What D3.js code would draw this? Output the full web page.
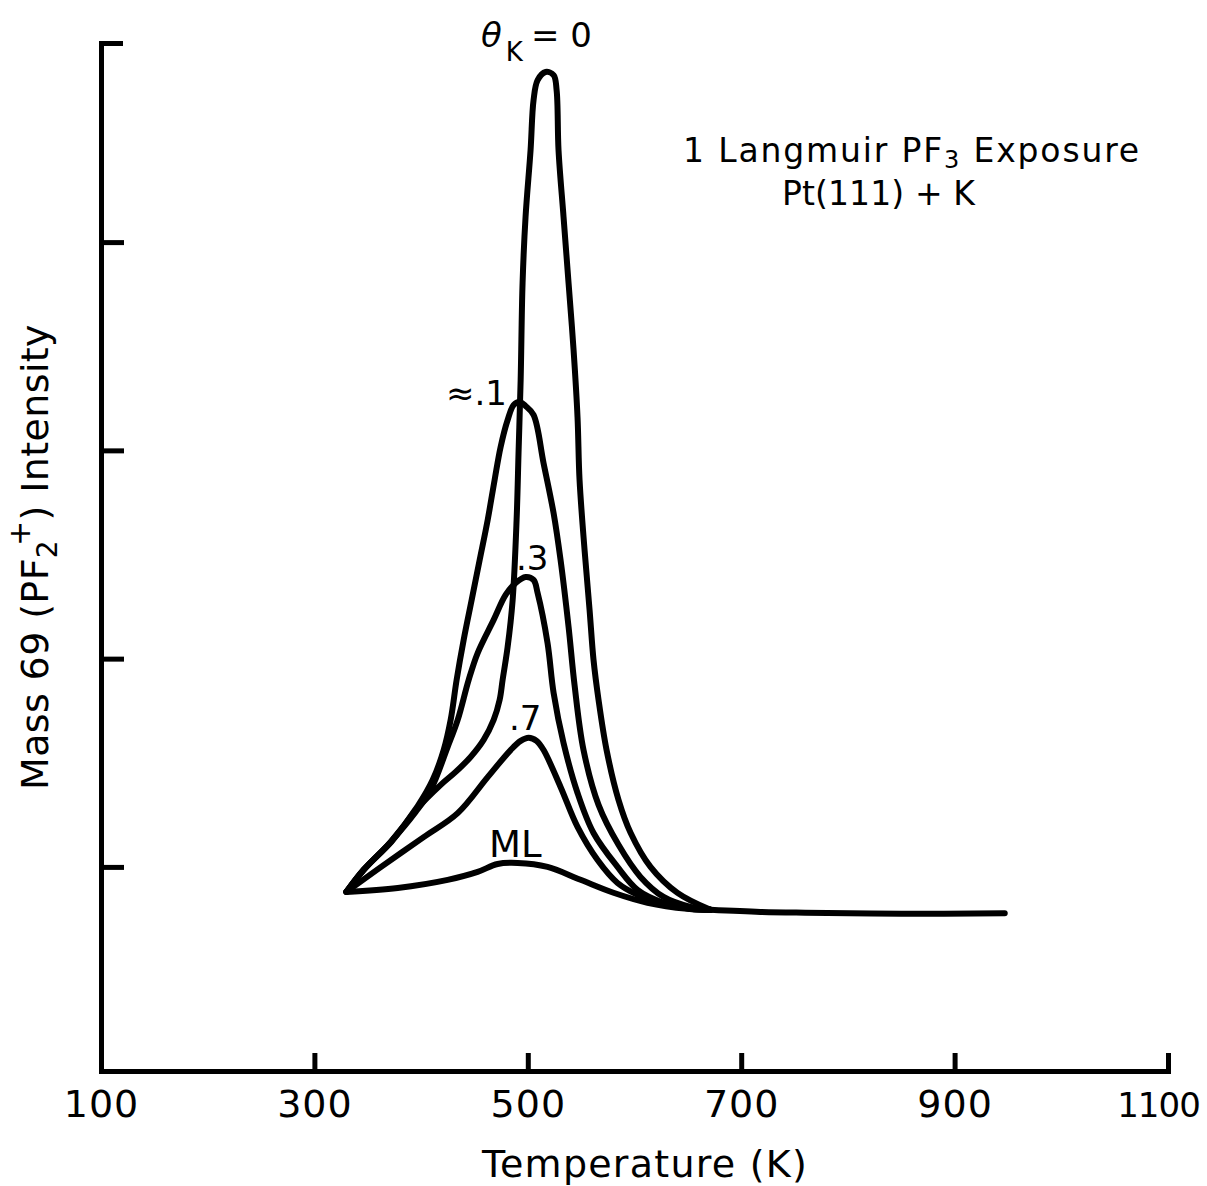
<!DOCTYPE html>
<html>
<head>
<meta charset="utf-8">
<script src="https://cdn.jsdelivr.net/npm/d3@7"></script>
<style>
  html, body { margin: 0; padding: 0; background: #fff; }
  svg { display: block; }
  text { font-family: "DejaVu Sans", "Noto Sans", sans-serif; fill: #000; }
</style>
</head>
<body>
<script>
// Thermal desorption of PF3 from Pt(111) with pre-adsorbed potassium.
// Temperature in K, mass 69 intensity in arbitrary units.
const tempTicks = [100, 300, 500, 700, 900, 1100];
const intensityTicks = [1, 2, 3, 4];

const thetaZero = [
  [330, 0.880], [346, 0.986], [372, 1.120], [396.8, 1.283], [418.4, 1.394],
  [432.4, 1.456], [446.4, 1.528], [458.6, 1.610], [468.0, 1.706], [473.6, 1.802],
  [476.4, 1.898], [481.1, 2.056], [485.8, 2.282], [489.5, 2.666], [491.4, 3.002],
  [493.3, 3.338], [495.1, 3.804], [497.9, 4.121], [502.6, 4.442], [505.4, 4.682],
  [509.2, 4.778], [516.7, 4.817], [524.2, 4.802], [527.0, 4.730], [528.8, 4.442],
  [533.5, 4.121], [538.2, 3.804], [542.9, 3.482], [546.6, 3.160], [548.5, 2.858],
  [553.2, 2.522], [557.9, 2.234], [561.6, 1.994], [566.3, 1.802], [573.8, 1.562],
  [585.0, 1.322], [596.3, 1.164], [615.0, 1.000], [640.3, 0.875], [671.2, 0.794]
];

const thetaTenth = [
  [330, 0.880], [346.3, 0.986], [371.5, 1.120], [396.8, 1.292], [410.9, 1.418],
  [421.2, 1.562], [427.7, 1.706], [433.3, 1.898], [439.9, 2.090], [447.4, 2.282],
  [454.9, 2.474], [462.4, 2.666], [468.9, 2.858], [474.5, 3.016], [481.1, 3.146],
  [486.7, 3.218], [492.3, 3.232], [497.9, 3.213], [505.4, 3.170], [514.8, 2.938],
  [524.2, 2.698], [530.7, 2.474], [538.2, 2.153], [543.8, 1.874], [552.2, 1.562],
  [566.3, 1.298], [585.0, 1.106], [605.6, 0.952], [627.2, 0.856], [652.4, 0.808],
  [671.2, 0.794]
];

const thetaThreeTenths = [
  [330, 0.880], [346.3, 0.986], [371.5, 1.120], [394.9, 1.264], [409.0, 1.370],
  [424.9, 1.576], [434.3, 1.706], [444.6, 1.898], [453.0, 2.027], [468.0, 2.186],
  [479.2, 2.306], [488.6, 2.363], [497.9, 2.392], [505.4, 2.378], [509.2, 2.315],
  [518.5, 2.075], [524.2, 1.835], [533.5, 1.595], [546.6, 1.355], [561.6, 1.163],
  [584.1, 1.000], [602.8, 0.890], [627.2, 0.828], [652.4, 0.799], [671.2, 0.794]
];

const thetaSevenTenths = [
  [330, 0.880], [362.2, 0.999], [402.4, 1.143], [434.3, 1.258], [462.4, 1.431],
  [483.9, 1.561], [493.3, 1.605], [500.8, 1.620], [508.2, 1.605], [514.8, 1.561],
  [530.7, 1.384], [546.6, 1.192], [565.4, 1.033], [584.1, 0.923], [602.8, 0.866],
  [627.2, 0.822], [652.4, 0.799], [671.2, 0.794]
];

const monolayer = [
  [330, 0.880], [378.1, 0.899], [424.9, 0.938], [453.0, 0.976], [471.7, 1.014],
  [490.5, 1.019], [518.5, 1.000], [549.4, 0.938], [580.3, 0.876], [612.2, 0.828],
  [649.6, 0.799], [671.2, 0.794]
];

// common high-temperature baseline shared by all coverages
const baseline = [[671.2, 0.794], [718, 0.784], [760, 0.780], [850, 0.775], [947, 0.778]];

const W = 1207, H = 1186;
const svg = d3.select("body").append("svg").attr("width", W).attr("height", H);

const x = d3.scaleLinear().domain([100, 1100]).range([101, 1168]);
const y = d3.scaleLinear().domain([0.02, 4.956]).range([1071, 43]);

// axes
const xAxis = d3.axisBottom(x).tickValues(tempTicks).tickSizeInner(-18).tickSizeOuter(-18)
  .tickPadding(0).tickFormat(d3.format("d"));
const gx = svg.append("g").attr("transform", `translate(0,${y.range()[0]})`).call(xAxis);
gx.selectAll("path, line").attr("stroke", "#000").attr("stroke-width", 5).attr("fill", "none");
gx.selectAll("text").attr("font-size", 38).attr("y", 46).attr("dy", 0).attr("letter-spacing", 1);
// the last label sits against the right edge: keep it compact
gx.selectAll(".tick text").filter(d => d === 1100)
  .attr("x", -10).attr("font-size", 34).attr("letter-spacing", -1);

const yAxis = d3.axisLeft(y).tickValues(intensityTicks).tickSizeInner(-23).tickSizeOuter(-22).tickFormat("");
const gy = svg.append("g").attr("transform", `translate(${x.range()[0]},0)`).call(yAxis);
gy.selectAll("path, line").attr("stroke", "#000").attr("stroke-width", 5).attr("fill", "none");

// curves
const line = d3.line().x(d => x(d[0])).y(d => y(d[1])).curve(d3.curveCatmullRom.alpha(0.5));
const curves = [thetaZero, thetaTenth, thetaThreeTenths, thetaSevenTenths, monolayer, baseline];
svg.append("g").selectAll("path").data(curves).join("path")
  .attr("d", line)
  .attr("fill", "none")
  .attr("stroke", "#000")
  .attr("stroke-width", 6)
  .attr("stroke-linejoin", "round")
  .attr("stroke-linecap", "round");

// stretch a text element to a given span by adjusting letter spacing
function fitWidth(t, width) {
  const n = t.text().length;
  const w = t.node().getComputedTextLength();
  t.attr("letter-spacing", (width - w) / n);
}

// axis titles
const xt = svg.append("text").attr("x", 482).attr("y", 1177).attr("font-size", 38)
  .text("Temperature (K)");
fitWidth(xt, 326);

const yt = svg.append("text").attr("transform", "translate(48,790) rotate(-90)")
  .attr("font-size", 38);
yt.append("tspan").text("Mass 69 (PF");
yt.append("tspan").attr("font-size", 28).attr("dy", 9).text("2");
yt.append("tspan").attr("font-size", 30).attr("dx", -6).attr("dy", -27).text("+");
yt.append("tspan").attr("dy", 18).text(") Intensity");
fitWidth(yt, 472);

// annotation
const a1 = svg.append("text").attr("x", 683).attr("y", 162).attr("font-size", 33);
a1.append("tspan").text("1 Langmuir PF");
a1.append("tspan").attr("font-size", 24).attr("dy", 6).text("3");
a1.append("tspan").attr("dy", -6).text(" Exposure");
fitWidth(a1, 458);

const a2 = svg.append("text").attr("x", 782).attr("y", 205).attr("font-size", 33)
  .text("Pt(111) + K");
fitWidth(a2, 193);

// coverage labels
const th = svg.append("text").attr("x", 481).attr("y", 47).attr("font-size", 34);
th.append("tspan").attr("font-style", "italic").text("θ");
th.append("tspan").attr("font-size", 26).attr("dy", 14).attr("dx", 4).text("K");
th.append("tspan").attr("dy", -14).attr("dx", 8).text("= 0");

svg.append("text").attr("x", 446).attr("y", 405).attr("font-size", 34).text("≈.1");
svg.append("text").attr("x", 516).attr("y", 570).attr("font-size", 34).text(".3");
svg.append("text").attr("x", 509).attr("y", 730).attr("font-size", 34).text(".7");
svg.append("text").attr("x", 489).attr("y", 857).attr("font-size", 37).text("ML");
</script>
</body>
</html>
